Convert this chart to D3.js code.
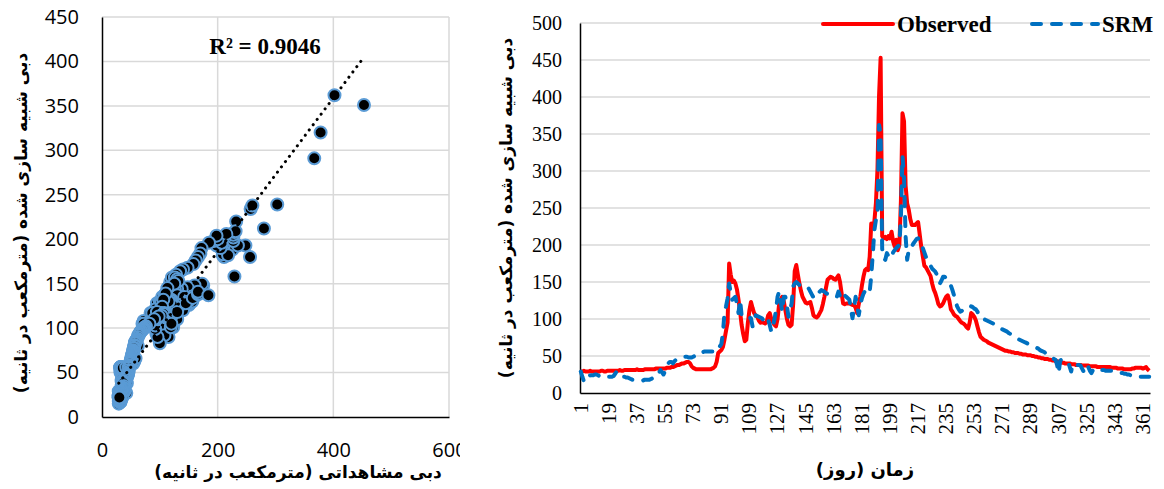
<!DOCTYPE html>
<html>
<head>
<meta charset="utf-8">
<script src="https://cdn.jsdelivr.net/npm/d3@7"></script>
<style>
    body { margin: 0; background: #fff; }
</style>
</head>
<body>
<svg id="chart" width="1164" height="489"></svg>
<script>
// daily discharge (m3/s), day 1..365
const observed = [
    29,29,30,29,29,29,30,29,29,29, 29,29,29,30,30,29,29,30,30,30,
    30,30,30,30,30,31,30,30,31,31, 31,31,31,31,31,31,32,31,31,31,
    31,32,32,32,32,32,32,32,33,33, 33,33,33,33,33,34,34,34,35,35,
    36,37,38,38,39,40,40,41,42,42, 40,36,34,33,32,32,32,32,32,32,
    32,32,32,32,33,34,36,42,54,56, 58,62,72,84,95,175,160,150,152,148,
    140,126,110,92,80,70,72,95,112,123, 115,108,105,103,98,95,96,95,94,96,
    105,108,100,96,92,90,100,120,126,130, 124,112,100,92,90,92,120,165,173,160,
    148,138,130,126,122,121,122,123,115,105, 103,102,104,108,112,120,130,142,153,155,
    157,156,154,153,156,159,150,135,121,120, 121,121,121,120,119,119,115,108,120,130,
    145,157,166,168,166,184,229,225,232,257, 303,402,453,212,209,211,208,212,209,218,
    205,198,207,193,200,260,378,367,280,256, 248,235,227,227,227,229,231,215,198,185,
    172,170,166,162,158,148,140,135,128,120, 117,118,121,126,130,132,125,113,110,106,
    104,103,100,97,95,94,92,89,87,95, 108,106,103,98,90,82,76,74,72,71,
    70,68,67,66,65,64,63,62,61,60, 59,58,57,57,56,56,55,55,54,54,
    54,53,53,52,52,52,51,51,51,50, 50,49,49,48,48,47,47,46,46,46,
    45,45,44,44,43,43,42,42,41,41, 40,40,40,40,39,39,39,38,38,38,
    38,37,37,37,37,37,36,36,36,36, 36,35,35,35,35,35,35,35,35,35,
    34,34,34,34,33,33,33,33,32,32, 32,32,32,33,33,34,34,34,34,34,
    33,34,35,32,30
];
const srm = [
    29,22,16,15,18,22,24,24,24,25, 25,24,23,22,22,22,21,21,22,22,
    22,23,26,29,27,23,22,22,22,21, 21,20,19,18,18,18,17,17,17,17,
    17,18,18,18,18,19,20,22,22,24, 27,31,28,25,30,36,40,42,42,40,
    43,45,46,47,48,48,49,49,49,48, 48,48,49,50,50,52,54,55,55,56,
    56,56,56,56,56,56,55,56,60,63, 66,80,108,117,128,148,136,126,128,130,
    120,108,126,105,104,105,105,103,102,101, 90,98,105,104,103,102,101,98,94,96,
    99,92,83,90,99,112,130,137,124,110, 130,130,118,103,112,121,144,148,150,148,
    146,144,144,144,144,144,141,137,133,129, 128,131,135,137,139,138,137,135,134,133,
    132,132,132,131,130,137,131,126,128,132, 130,128,126,113,101,115,130,118,105,118,
    128,134,138,139,141,137,158,188,220,234, 239,362,351,195,182,180,189,185,183,182,
    190,193,196,198,200,238,320,291,212,180, 193,193,198,202,205,208,209,206,204,196,
    190,184,180,176,172,168,166,164,160,152, 148,152,157,157,155,153,150,145,139,132,
    124,117,113,110,111,113,114,116,117,118, 117,116,114,113,110,105,102,101,100,99,
    98,97,96,95,94,93,92,90,88,87, 86,85,84,83,81,80,78,77,75,74,
    73,72,71,70,69,68,67,66,65,64, 63,62,61,60,58,57,56,55,53,51,
    49,48,47,46,45,38,27,44,45,45, 44,43,42,36,29,39,40,39,38,38,
    37,33,29,35,38,35,30,27,31,33, 33,32,31,31,31,31,30,30,30,30,
    30,30,29,29,28,28,27,27,26,26, 25,25,24,23,23,23,22,22,22,22,
    22,22,22,22,22
];

const scatterXTicks = [0, 200, 400, 600];
const scatterYTicks = [0, 50, 100, 150, 200, 250, 300, 350, 400, 450];
const flowTicks = [0, 50, 100, 150, 200, 250, 300, 350, 400, 450, 500];
const dayTicks = [1, 19, 37, 55, 73, 91, 109, 127, 145, 163, 181, 199, 217, 235, 253, 271, 289, 307, 325, 343, 361];
const seriesNames = ["Observed", "SRM"];
const rSquaredLabel = "R\u00B2 = 0.9046";
const xTitleScatter = "دبی مشاهداتی (مترمکعب در ثانیه)";
const yTitle = "دبی شبیه سازی شده (مترمکعب در ثانیه)";
const xTitleDays = "زمان (روز)";

const days = d3.range(1, observed.length + 1);
const points = days.map((d, i) => ({ obs: observed[i], sim: srm[i] }));

const svg = d3.select("#chart");
const gridColor = "#d9d9d9";
const sansFont = "'Open Sans', 'Liberation Sans', sans-serif";
const serifFont = "'Liberation Serif', 'Times New Roman', serif";
const arabicFont = "'DejaVu Sans', sans-serif";
const red = "#ff0000";
const blue = "#0070c0";

// the scatter panel was a separate picture, cut at its right edge
svg.append("defs")
    .append("clipPath")
    .attr("id", "left-panel")
    .append("rect")
    .attr("x", 0).attr("y", 0)
    .attr("width", 460).attr("height", 489);

// ---------- left: scatter ----------
const sx = d3.scaleLinear().domain([0, 600]).range([102, 449]);
const sy = d3.scaleLinear().domain([0, 450]).range([417, 17]);

const left = svg.append("g")
    .attr("class", "scatter")
    .attr("clip-path", "url(#left-panel)");

left.append("g")
    .selectAll("line.hgrid")
    .data(scatterYTicks.filter(t => t > 0))
    .join("line")
    .attr("x1", sx(0)).attr("x2", sx(600))
    .attr("y1", d => sy(d)).attr("y2", d => sy(d))
    .attr("stroke", gridColor).attr("stroke-width", 1.5);

left.append("g")
    .selectAll("line.vgrid")
    .data(scatterXTicks.filter(t => t > 0))
    .join("line")
    .attr("x1", d => sx(d)).attr("x2", d => sx(d))
    .attr("y1", sy(0)).attr("y2", sy(450))
    .attr("stroke", gridColor).attr("stroke-width", 1.5);

left.append("g")
    .attr("transform", `translate(0,${sy(0)})`)
    .call(d3.axisBottom(sx).tickValues(scatterXTicks).tickSize(0).tickPadding(26))
    .call(g => g.select(".domain").attr("stroke", "#000").attr("stroke-width", 1.5));

left.append("g")
    .attr("transform", `translate(${sx(0)},0)`)
    .call(d3.axisLeft(sy).tickValues(scatterYTicks).tickSize(0).tickPadding(23))
    .call(g => g.select(".domain").attr("stroke", "#000").attr("stroke-width", 1.5));

left.selectAll(".tick text")
    .attr("font-size", 20)
    .attr("font-family", sansFont)
    .attr("fill", "#000");

// points
left.append("g")
    .selectAll("circle")
    .data(points)
    .join("circle")
    .attr("cx", d => sx(d.obs))
    .attr("cy", d => sy(d.sim))
    .attr("r", 6)
    .attr("fill", "#000")
    .attr("stroke", "#5b9bd5")
    .attr("stroke-width", 2);

// linear trend line (least squares)
const mx = d3.mean(points, d => d.obs);
const my = d3.mean(points, d => d.sim);
const slope = d3.sum(points, d => (d.obs - mx) * (d.sim - my)) / d3.sum(points, d => (d.obs - mx) ** 2);
const intercept = my - slope * mx;
const [xMin, xMax] = d3.extent(points, d => d.obs);

left.append("line")
    .attr("x1", sx(xMin)).attr("y1", sy(slope * xMin + intercept))
    .attr("x2", sx(xMax)).attr("y2", sy(slope * xMax + intercept))
    .attr("stroke", "#000")
    .attr("stroke-width", 3)
    .attr("stroke-linecap", "round")
    .attr("stroke-dasharray", "0.1 6.5");

left.append("text")
    .attr("x", 265).attr("y", 54)
    .attr("text-anchor", "middle")
    .attr("font-family", serifFont)
    .attr("font-weight", "bold")
    .attr("font-size", 23)
    .text(rSquaredLabel);

left.append("text")
    .attr("x", 298).attr("y", 478)
    .attr("direction", "rtl")
    .attr("text-anchor", "middle")
    .attr("font-family", arabicFont)
    .attr("font-weight", "bold")
    .attr("font-size", 17)
    .text(xTitleScatter);

left.append("text")
    .attr("transform", `translate(27,${(sy(0) + sy(450)) / 2 + 6}) rotate(-90)`)
    .attr("direction", "rtl")
    .attr("text-anchor", "middle")
    .attr("font-family", arabicFont)
    .attr("font-weight", "bold")
    .attr("font-size", 17)
    .text(yTitle);

// ---------- right: hydrograph ----------
const x = d3.scaleBand().domain(days).range([580, 1150]);
const y = d3.scaleLinear().domain([0, 500]).range([393, 23]);
const cx = d => x(d) + x.bandwidth() / 2;

const right = svg.append("g").attr("class", "hydrograph");

right.append("g")
    .selectAll("line")
    .data(flowTicks.filter(t => t > 0))
    .join("line")
    .attr("x1", 580).attr("x2", 1150)
    .attr("y1", d => y(d)).attr("y2", d => y(d))
    .attr("stroke", gridColor).attr("stroke-width", 1.5);

right.append("g")
    .attr("class", "x-axis")
    .attr("transform", `translate(0,${y(0)})`)
    .call(d3.axisBottom(x).tickValues(dayTicks).tickSize(0))
    .call(g => g.select(".domain").attr("stroke", "#000").attr("stroke-width", 1.5))
    .call(g => g.selectAll(".tick text")
        .attr("transform", "rotate(-90)")
        .attr("text-anchor", "end")
        .attr("x", -10)
        .attr("y", 0)
        .attr("dy", "0.33em"));

right.append("g")
    .attr("class", "y-axis")
    .attr("transform", `translate(580,0)`)
    .call(d3.axisLeft(y).tickValues(flowTicks).tickSize(0).tickPadding(18))
    .call(g => g.select(".domain").attr("stroke", "#000").attr("stroke-width", 1.5));

right.selectAll(".tick text")
    .attr("font-size", 20)
    .attr("font-family", serifFont)
    .attr("fill", "#000");

right.select(".x-axis").selectAll(".tick text")
    .attr("font-size", 21);

const lineOf = values => d3.line()
    .x((d, i) => cx(days[i]))
    .y(d => y(d))(values);

right.append("path")
    .attr("d", lineOf(observed))
    .attr("fill", "none")
    .attr("stroke", red)
    .attr("stroke-width", 4)
    .attr("stroke-linejoin", "round");

right.append("path")
    .attr("d", lineOf(srm))
    .attr("fill", "none")
    .attr("stroke", blue)
    .attr("stroke-width", 4)
    .attr("stroke-linecap", "round")
    .attr("stroke-linejoin", "round")
    .attr("stroke-dasharray", "9 11");

// legend
const legend = right.append("g").attr("class", "legend");
const legendItems = [
    { name: seriesNames[0], color: red, dash: null, x0: 823, x1: 893 },
    { name: seriesNames[1], color: blue, dash: "9 11", x0: 1032, x1: 1098 }
];
legendItems.forEach(item => {
    legend.append("line")
        .attr("x1", item.x0).attr("x2", item.x1)
        .attr("y1", 24).attr("y2", 24)
        .attr("stroke", item.color)
        .attr("stroke-width", 4)
        .attr("stroke-linecap", "round")
        .attr("stroke-dasharray", item.dash);
    legend.append("text")
        .attr("x", item.x1 + 4).attr("y", 32)
        .attr("font-family", serifFont)
        .attr("font-weight", "bold")
        .attr("font-size", 23)
        .text(item.name);
});

right.append("text")
    .attr("x", 865).attr("y", 476)
    .attr("direction", "rtl")
    .attr("text-anchor", "middle")
    .attr("font-family", arabicFont)
    .attr("font-weight", "bold")
    .attr("font-size", 18)
    .text(xTitleDays);

right.append("text")
    .attr("transform", `translate(512,${(y(0) + y(500)) / 2}) rotate(-90)`)
    .attr("direction", "rtl")
    .attr("text-anchor", "middle")
    .attr("font-family", arabicFont)
    .attr("font-weight", "bold")
    .attr("font-size", 17)
    .text(yTitle);
</script>
</body>
</html>
